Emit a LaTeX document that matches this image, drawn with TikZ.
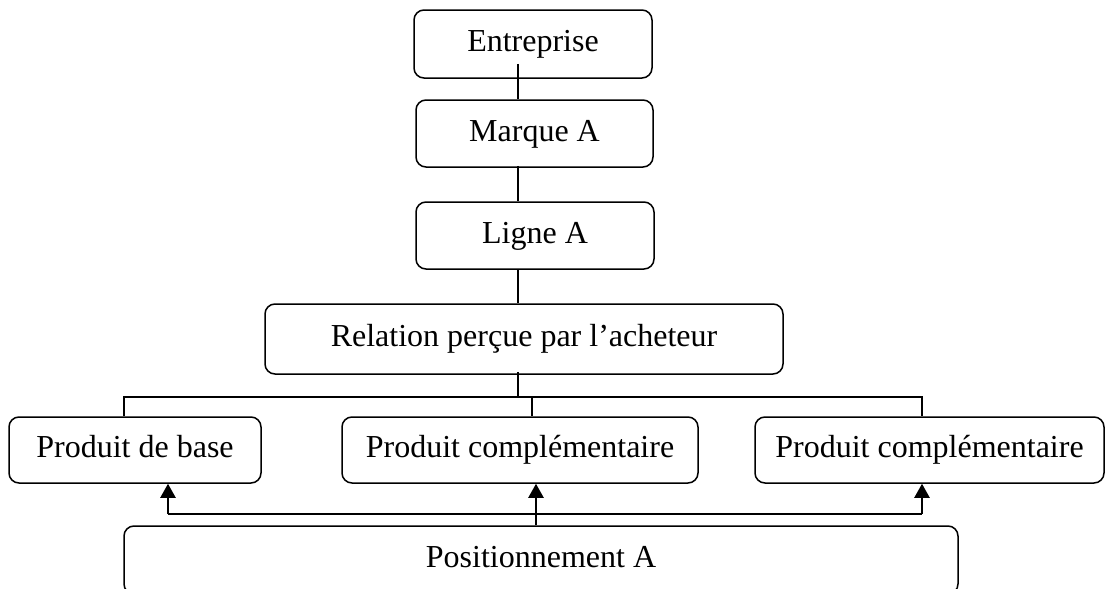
\documentclass[tikz,border=0pt]{standalone}
\usepackage{fontspec}
\setmainfont{Liberation Serif}
\usetikzlibrary{arrows.meta}
\begin{document}
\begin{tikzpicture}[x=1pt,y=-1pt,
  box/.style={draw, line width=1.5pt, rounded corners=10pt, inner sep=0pt,
    text height=22pt, text depth=7pt,
    font=\fontsize{32}{37}\selectfont},
  link/.style={line width=1.5pt},
  push/.style={line width=2.2pt, -{Triangle[width=15pt,length=14pt]}},
  feed/.style={line width=2.2pt}]
\useasboundingbox (0,0) rectangle (1106,589);

% hierarchy
\node[box, minimum width=238pt, minimum height=68pt] (ent) at (533,44) {Entreprise};
\node[box, minimum width=237pt, minimum height=67pt] (mar) at (534.5,133.5) {Marque A};
\node[box, minimum width=238pt, minimum height=67pt] (lig) at (535,235.5) {Ligne A};
\node[box, minimum width=518pt, minimum height=70pt] (rel) at (524,339) {Relation perçue par l’acheteur};

% products
\node[box, minimum width=252pt, minimum height=66pt] (p1) at (135,450) {Produit de base};
\node[box, minimum width=356pt, minimum height=66pt] (p2) at (520,450) {Produit complémentaire};
\node[box, minimum width=349pt, minimum height=66pt] (p3) at (929.5,450) {Produit complémentaire};

% positioning
\node[box, minimum width=834pt, minimum height=68pt] (pos) at (541,560) {Positionnement A};

% vertical spine and branch points
\coordinate (spine) at (518,0);
\coordinate (d1) at (124,397);
\coordinate (d2) at (532,397);
\coordinate (d3) at (922,397);
\coordinate (a1) at (168,514);
\coordinate (a2) at (536,0);
\coordinate (a3) at (922,514);

\draw[link] ([yshift=15pt]ent.south -| spine) -- (mar.north -| spine);
\draw[link] ([yshift=2pt]mar.south -| spine) -- (lig.north -| spine);
\draw[link] (lig.south -| spine) -- (rel.north -| spine);
\draw[link] ([yshift=3pt]rel.south -| spine) -- (spine |- d1);

% branches to products
\draw[link] (p1.north -| d1) -- (d1) -- (d3) -- (p3.north -| d3);
\draw[link] (d2) -- (p2.north -| d2);

% positioning feeds the products
\draw[feed] (a1) -- (a3);
\draw[push] (a1) -- (p1.south -| a1);
\draw[push] (a3) -- (p3.south -| a3);
\draw[push] (pos.north -| a2) -- (p2.south -| a2);
\end{tikzpicture}
\end{document}
